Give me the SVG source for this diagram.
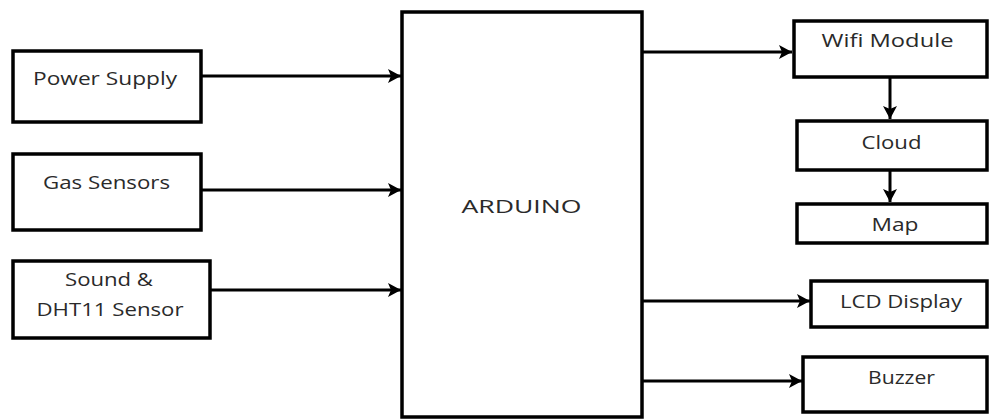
<svg xmlns="http://www.w3.org/2000/svg" width="989" height="419" viewBox="0 0 989 419">
<style>
.box{fill:#fff;stroke:#000;stroke-width:3.5}
.lbl{font-family:"Open Sans","Liberation Sans",sans-serif;font-size:19px;fill:#2a2a2a;text-anchor:middle}
.con{stroke:#000;stroke-width:3;fill:none}
</style>
<defs>
<marker id="ah" markerUnits="userSpaceOnUse" markerWidth="15" markerHeight="14" refX="13" refY="7" orient="auto">
<path d="M0,0 L13,7 L0,14 L3,7 z" fill="#000"/>
</marker>
</defs>
<rect width="989" height="419" fill="#fff"/>
<g id="connectors">
<line class="con" x1="202" y1="76" x2="401" y2="76" marker-end="url(#ah)"/>
<line class="con" x1="202" y1="190" x2="401" y2="190" marker-end="url(#ah)"/>
<line class="con" x1="211" y1="290" x2="401" y2="290" marker-end="url(#ah)"/>
<line class="con" x1="643" y1="52" x2="792" y2="52" marker-end="url(#ah)"/>
<line class="con" x1="643" y1="301" x2="810" y2="301" marker-end="url(#ah)"/>
<line class="con" x1="643" y1="381" x2="802" y2="381" marker-end="url(#ah)"/>
<line class="con" x1="890" y1="78" x2="890" y2="119" marker-end="url(#ah)"/>
<line class="con" x1="890" y1="171" x2="890" y2="202" marker-end="url(#ah)"/>
</g>
<g id="power">
<rect class="box" x="13" y="51" width="188" height="71"/>
<text class="lbl" x="105" y="85" textLength="144" lengthAdjust="spacingAndGlyphs">Power Supply</text>
</g>
<g id="gas">
<rect class="box" x="13" y="154" width="188" height="76"/>
<text class="lbl" x="106.5" y="189" textLength="127" lengthAdjust="spacingAndGlyphs">Gas Sensors</text>
</g>
<g id="sound">
<rect class="box" x="13" y="261" width="197" height="77"/>
<text class="lbl" x="109" y="286" textLength="88" lengthAdjust="spacingAndGlyphs">Sound &amp;</text>
<text class="lbl" x="110" y="316" textLength="147" lengthAdjust="spacingAndGlyphs">DHT11 Sensor</text>
</g>
<g id="arduino">
<rect class="box" x="402" y="12" width="240" height="405"/>
<text class="lbl" x="521.5" y="213" textLength="120" lengthAdjust="spacingAndGlyphs">ARDUINO</text>
</g>
<g id="wifi">
<rect class="box" x="794" y="21" width="193" height="56"/>
<text class="lbl" x="887.5" y="47" textLength="132" lengthAdjust="spacingAndGlyphs">Wifi Module</text>
</g>
<g id="cloud">
<rect class="box" x="797" y="121" width="190" height="49"/>
<text class="lbl" x="891.5" y="149" textLength="60" lengthAdjust="spacingAndGlyphs">Cloud</text>
</g>
<g id="map">
<rect class="box" x="797" y="204" width="190" height="39"/>
<text class="lbl" x="895" y="231" textLength="47" lengthAdjust="spacingAndGlyphs">Map</text>
</g>
<g id="lcd">
<rect class="box" x="811" y="281" width="176" height="46"/>
<text class="lbl" x="901" y="308" textLength="122" lengthAdjust="spacingAndGlyphs">LCD Display</text>
</g>
<g id="buzzer">
<rect class="box" x="803" y="357" width="184" height="55"/>
<text class="lbl" x="901.5" y="384" textLength="67" lengthAdjust="spacingAndGlyphs">Buzzer</text>
</g>
</svg>
